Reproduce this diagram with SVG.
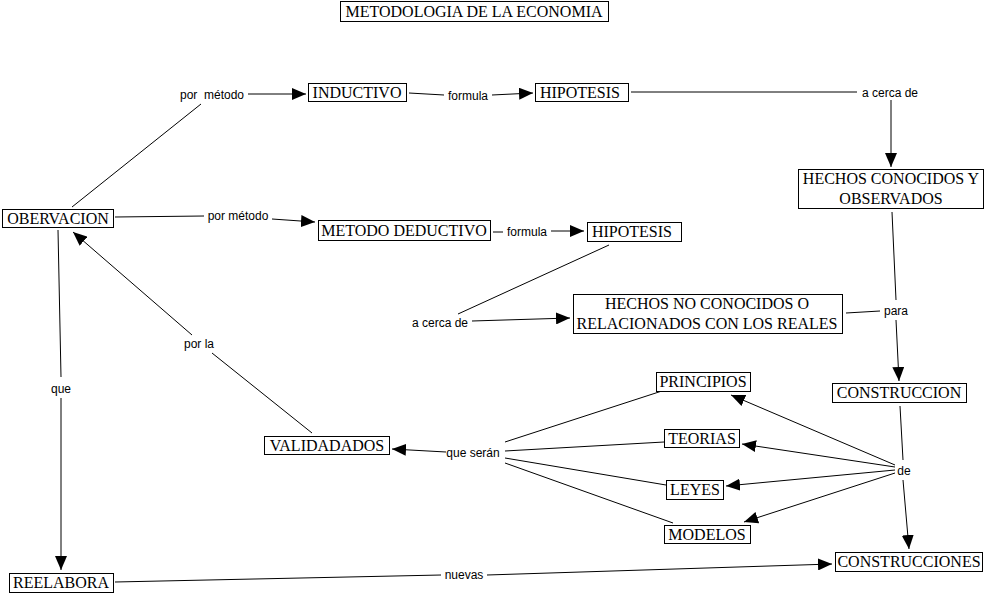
<svg xmlns="http://www.w3.org/2000/svg" width="989" height="594" viewBox="0 0 989 594">
<style>
.box{fill:#fff;stroke:#000;stroke-width:1}
.nt{font-family:"Liberation Serif",serif;font-size:16px;fill:#000;text-anchor:middle}
.lb{font-family:"Liberation Sans",Arial,sans-serif;font-size:12px;fill:#000;text-anchor:middle}
.c line{stroke:#000;stroke-width:1}
.c line.a{marker-end:url(#ah)}
</style>
<defs>
<marker id="ah" markerUnits="userSpaceOnUse" markerWidth="14" markerHeight="12" refX="14" refY="6" orient="auto">
<path d="M0,0 L14,6 L0,12 z" fill="#000"/>
</marker>
</defs>
<rect width="989" height="594" fill="#fff"/>
<g class="c" id="connectors">
<line x1="72" y1="207" x2="201" y2="104"/>
<line class="a" x1="248" y1="94" x2="306" y2="94"/>
<line x1="409" y1="93" x2="444" y2="95"/>
<line class="a" x1="492" y1="95" x2="533" y2="93"/>
<line x1="631" y1="92" x2="857" y2="92"/>
<line class="a" x1="891" y1="100" x2="891" y2="167"/>
<line x1="115" y1="217" x2="204" y2="216"/>
<line class="a" x1="272" y1="219" x2="315" y2="222"/>
<line x1="493" y1="232" x2="503" y2="232"/>
<line class="a" x1="551" y1="231" x2="584" y2="231"/>
<line x1="609" y1="245" x2="458" y2="314"/>
<line class="a" x1="472" y1="321" x2="570" y2="318"/>
<line x1="892" y1="212" x2="896" y2="300"/>
<line x1="846" y1="313" x2="880" y2="311"/>
<line class="a" x1="896" y1="320" x2="899" y2="381"/>
<line x1="900" y1="406" x2="903" y2="460"/>
<line class="a" x1="903" y1="480" x2="909" y2="549"/>
<line class="a" x1="895" y1="465" x2="731" y2="395"/>
<line class="a" x1="895" y1="467" x2="742" y2="444"/>
<line class="a" x1="895" y1="470" x2="726" y2="486"/>
<line class="a" x1="895" y1="473" x2="744" y2="522"/>
<line x1="665" y1="390" x2="505" y2="442"/>
<line x1="664" y1="442" x2="505" y2="451"/>
<line x1="666" y1="485" x2="505" y2="458"/>
<line x1="673" y1="523" x2="505" y2="463"/>
<line class="a" x1="446" y1="452" x2="392" y2="449"/>
<line x1="312" y1="433" x2="212" y2="353"/>
<line class="a" x1="192" y1="335" x2="73" y2="232"/>
<line x1="58" y1="230" x2="61" y2="377"/>
<line class="a" x1="61" y1="398" x2="61" y2="570"/>
<line x1="115" y1="582" x2="441" y2="575"/>
<line class="a" x1="487" y1="575" x2="832" y2="564"/>
</g>
<g id="labels">
<text class="lb" x="212" y="99">por&#160; método</text>
<text class="lb" x="468" y="100">formula</text>
<text class="lb" x="890" y="97">a cerca de</text>
<text class="lb" x="238" y="220">por método</text>
<text class="lb" x="527" y="236">formula</text>
<text class="lb" x="440" y="327">a cerca de</text>
<text class="lb" x="896" y="315">para</text>
<text class="lb" x="904" y="475">de</text>
<text class="lb" x="473" y="457">que serán</text>
<text class="lb" x="199" y="348">por la</text>
<text class="lb" x="61" y="393">que</text>
<text class="lb" x="464" y="579">nuevas</text>
</g>
<g id="title"><rect class="box" x="340.5" y="1.5" width="268" height="20"/><text class="nt" x="474" y="17">METODOLOGIA DE LA ECONOMIA</text></g>
<g id="inductivo"><rect class="box" x="308.5" y="83.5" width="98" height="18"/><text class="nt" x="357" y="98">INDUCTIVO</text></g>
<g id="hipotesis1"><rect class="box" x="535.5" y="83.5" width="93" height="18"/><text class="nt" x="580" y="98">HIPOTESIS</text></g>
<g id="hechos-conocidos"><rect class="box" x="798.5" y="169.5" width="185" height="39"/><text class="nt" x="891" y="184">HECHOS CONOCIDOS Y</text><text class="nt" x="891" y="204">OBSERVADOS</text></g>
<g id="obervacion"><rect class="box" x="2.5" y="209.5" width="111" height="18"/><text class="nt" x="58" y="224">OBERVACION</text></g>
<g id="metodo-deductivo"><rect class="box" x="318.5" y="220.5" width="172" height="20"/><text class="nt" x="404" y="236">METODO DEDUCTIVO</text></g>
<g id="hipotesis2"><rect class="box" x="587.5" y="222.5" width="94" height="19"/><text class="nt" x="632" y="237">HIPOTESIS</text></g>
<g id="hechos-no-conocidos"><rect class="box" x="573.5" y="294.5" width="269" height="39"/><text class="nt" x="707" y="309">HECHOS NO CONOCIDOS O</text><text class="nt" x="707" y="329">RELACIONADOS CON LOS REALES</text></g>
<g id="principios"><rect class="box" x="656.5" y="372.5" width="94" height="19"/><text class="nt" x="703" y="387">PRINCIPIOS</text></g>
<g id="construccion"><rect class="box" x="832.5" y="383.5" width="134" height="19"/><text class="nt" x="899" y="398">CONSTRUCCION</text></g>
<g id="teorias"><rect class="box" x="664.5" y="429.5" width="75" height="18"/><text class="nt" x="702" y="444">TEORIAS</text></g>
<g id="validadados"><rect class="box" x="264.5" y="436.5" width="125" height="18"/><text class="nt" x="327" y="451">VALIDADADOS</text></g>
<g id="leyes"><rect class="box" x="666.5" y="480.5" width="57" height="19"/><text class="nt" x="695" y="495">LEYES</text></g>
<g id="modelos"><rect class="box" x="664.5" y="525.5" width="86" height="18"/><text class="nt" x="707" y="540">MODELOS</text></g>
<g id="construcciones"><rect class="box" x="835.5" y="552.5" width="147" height="19"/><text class="nt" x="909" y="567">CONSTRUCCIONES</text></g>
<g id="reelabora"><rect class="box" x="9.5" y="573.5" width="104" height="19"/><text class="nt" x="61" y="588">REELABORA</text></g>
</svg>
